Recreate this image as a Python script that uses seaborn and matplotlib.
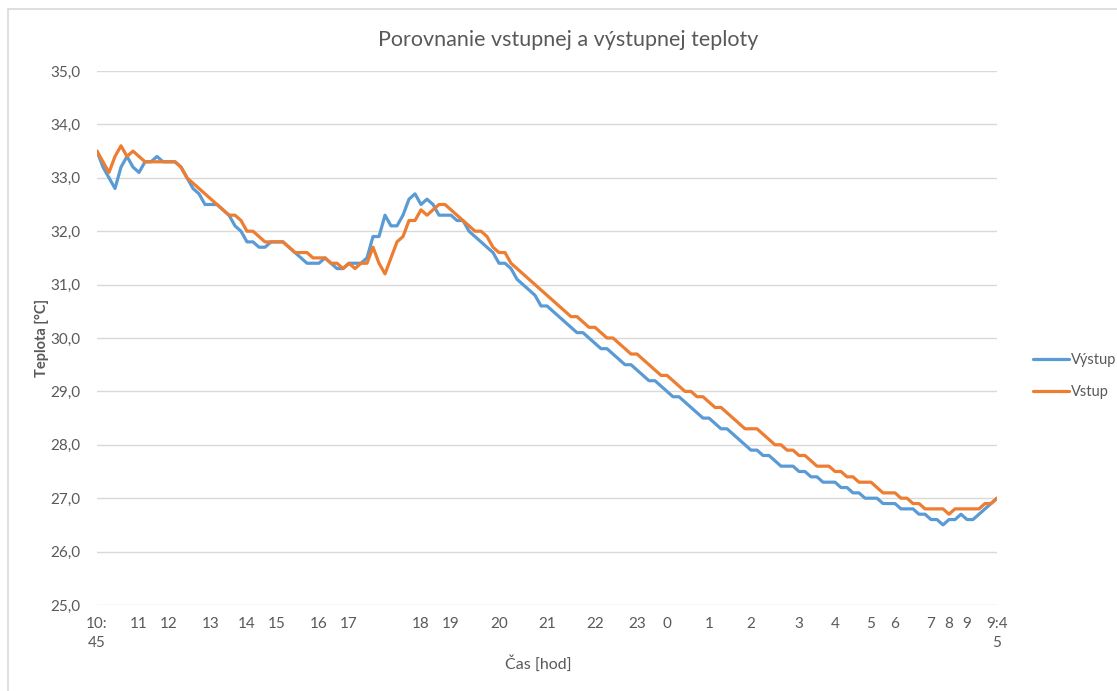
import numpy as np
import pandas as pd
import matplotlib
matplotlib.use("Agg")
import matplotlib.pyplot as plt
from matplotlib.lines import Line2D
from matplotlib.patches import Rectangle
import seaborn as sns

# ---- data (sample index -> temperature) ----
vystup = [
    33.5, 33.2, 33.0, 32.8, 33.2, 33.4, 33.2, 33.1, 33.3, 33.3,
    33.4, 33.3, 33.3, 33.3, 33.2, 33.0, 32.8, 32.7, 32.5, 32.5,
    32.5, 32.4, 32.3, 32.1, 32.0, 31.8, 31.8, 31.7, 31.7, 31.8,
    31.8, 31.8, 31.7, 31.6, 31.5, 31.4, 31.4, 31.4, 31.5, 31.4,
    31.3, 31.3, 31.4, 31.4, 31.4, 31.5, 31.9, 31.9, 32.3, 32.1,
    32.1, 32.3, 32.6, 32.7, 32.5, 32.6, 32.5, 32.3, 32.3, 32.3,
    32.2, 32.2, 32.0, 31.9, 31.8, 31.7, 31.6, 31.4, 31.4, 31.3,
    31.1, 31.0, 30.9, 30.8, 30.6, 30.6, 30.5, 30.4, 30.3, 30.2,
    30.1, 30.1, 30.0, 29.9, 29.8, 29.8, 29.7, 29.6, 29.5, 29.5,
    29.4, 29.3, 29.2, 29.2, 29.1, 29.0, 28.9, 28.9, 28.8, 28.7,
    28.6, 28.5, 28.5, 28.4, 28.3, 28.3, 28.2, 28.1, 28.0, 27.9,
    27.9, 27.8, 27.8, 27.7, 27.6, 27.6, 27.6, 27.5, 27.5, 27.4,
    27.4, 27.3, 27.3, 27.3, 27.2, 27.2, 27.1, 27.1, 27.0, 27.0,
    27.0, 26.9, 26.9, 26.9, 26.8, 26.8, 26.8, 26.7, 26.7, 26.6,
    26.6, 26.5, 26.6, 26.6, 26.7, 26.6, 26.6, 26.7, 26.8, 26.9,
    27.0,
]
vstup = [
    33.5, 33.3, 33.1, 33.4, 33.6, 33.4, 33.5, 33.4, 33.3, 33.3,
    33.3, 33.3, 33.3, 33.3, 33.2, 33.0, 32.9, 32.8, 32.7, 32.6,
    32.5, 32.4, 32.3, 32.3, 32.2, 32.0, 32.0, 31.9, 31.8, 31.8,
    31.8, 31.8, 31.7, 31.6, 31.6, 31.6, 31.5, 31.5, 31.5, 31.4,
    31.4, 31.3, 31.4, 31.3, 31.4, 31.4, 31.7, 31.4, 31.2, 31.5,
    31.8, 31.9, 32.2, 32.2, 32.4, 32.3, 32.4, 32.5, 32.5, 32.4,
    32.3, 32.2, 32.1, 32.0, 32.0, 31.9, 31.7, 31.6, 31.6, 31.4,
    31.3, 31.2, 31.1, 31.0, 30.9, 30.8, 30.7, 30.6, 30.5, 30.4,
    30.4, 30.3, 30.2, 30.2, 30.1, 30.0, 30.0, 29.9, 29.8, 29.7,
    29.7, 29.6, 29.5, 29.4, 29.3, 29.3, 29.2, 29.1, 29.0, 29.0,
    28.9, 28.9, 28.8, 28.7, 28.7, 28.6, 28.5, 28.4, 28.3, 28.3,
    28.3, 28.2, 28.1, 28.0, 28.0, 27.9, 27.9, 27.8, 27.8, 27.7,
    27.6, 27.6, 27.6, 27.5, 27.5, 27.4, 27.4, 27.3, 27.3, 27.3,
    27.2, 27.1, 27.1, 27.1, 27.0, 27.0, 26.9, 26.9, 26.8, 26.8,
    26.8, 26.8, 26.7, 26.8, 26.8, 26.8, 26.8, 26.8, 26.9, 26.9,
    27.0,
]
series_names = ["Výstup", "Vstup"]
tick_idx = [0, 7, 12, 19, 25, 30, 37, 42, 54, 59, 67, 75, 83, 90, 95,
            102, 109, 117, 123, 129, 133, 139, 142, 145, 150]
tick_labels = ["10:\n45", "11", "12", "13", "14", "15", "16", "17", "18",
               "19", "20", "21", "22", "23", "0", "1", "2", "3", "4", "5",
               "6", "7", "8", "9", "9:4\n5"]
y_ticks = [25, 26, 27, 28, 29, 30, 31, 32, 33, 34, 35]

colors = ["#5B9BD5", "#ED7D31"]
text_color = "#595959"
grid_color = "#D9D9D9"

sns.set_style("white")
plt.rcParams["font.family"] = ["Lato", "DejaVu Sans"]

n = len(vystup)
df = pd.DataFrame({
    "idx": list(range(n)) * 2,
    "temp": vystup + vstup,
    "series": [series_names[0]] * n + [series_names[1]] * n,
})

W, H = 1117, 691
fig = plt.figure(figsize=(W / 100, H / 100), dpi=100)
ax = fig.add_axes([97 / W, 1 - 605 / H, 900 / W, 534 / H])

sns.lineplot(data=df, x="idx", y="temp", hue="series", hue_order=series_names,
             palette=colors, linewidth=2.3, ax=ax, legend=False)

ax.set_xlim(0, n - 1)
ax.set_ylim(25, 35)
ax.set_yticks(y_ticks)
ax.set_yticklabels([f"{v:.1f}".replace(".", ",") for v in y_ticks])
ax.set_xticks(tick_idx)
ax.set_xticklabels(tick_labels, linespacing=1.45, va="top")
ax.tick_params(axis="both", length=0, colors=text_color, labelsize=11)
ax.tick_params(axis="x", pad=9)
ax.tick_params(axis="y", pad=12)
ax.grid(axis="y", color=grid_color, linewidth=1)
ax.grid(axis="x", visible=False)
ax.set_axisbelow(True)
for s in ax.spines.values():
    s.set_visible(False)
ax.set_xlabel("")
ax.set_ylabel("")

fig.text(568 / W, 1 - 40 / H, "Porovnanie vstupnej a výstupnej teploty",
         ha="center", va="center", fontsize=15.5, color=text_color)
fig.text(42 / W, 1 - 338 / H, "Teplota [°C]", rotation=90, ha="center",
         va="center", fontsize=10.5, fontweight="bold", color=text_color)
fig.text(538 / W, 1 - 664 / H, "Čas [hod]", ha="center", va="center",
         fontsize=11.5, color=text_color)

handles = [Line2D([0], [0], color=c, lw=2.3) for c in colors]
fig.legend(handles, series_names, loc="center left",
           bbox_to_anchor=(1033 / W, 1 - 376 / H), frameon=False,
           borderpad=0, borderaxespad=0,
           handlelength=2.5, handletextpad=0.1, labelspacing=1.2,
           fontsize=10.5, labelcolor=text_color)

fig.patches.append(Rectangle((8 / W, -0.05), 1.2, 1 - 9 / H + 0.05,
                             transform=fig.transFigure, fill=False,
                             edgecolor=grid_color, linewidth=1.2))

fig.savefig("out.png", dpi=100)
